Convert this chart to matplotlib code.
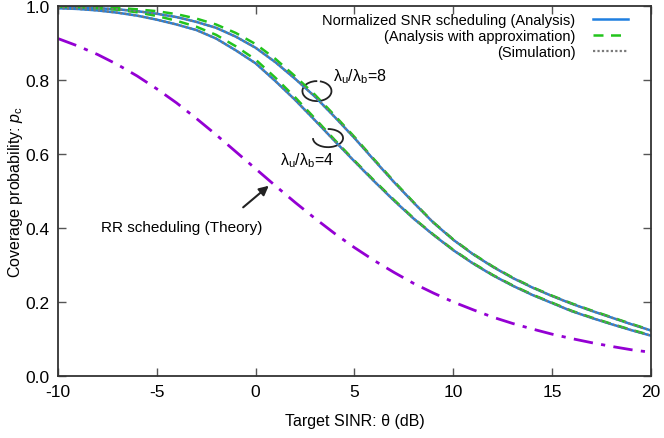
import matplotlib
matplotlib.use("Agg")
import matplotlib.pyplot as plt
from matplotlib.patches import Arc

plt.rcParams['font.family'] = ['Liberation Sans', 'DejaVu Sans']
plt.rcParams['mathtext.fontset'] = 'custom'
plt.rcParams['mathtext.rm'] = 'Liberation Sans'
plt.rcParams['mathtext.it'] = 'Liberation Sans:italic'

# Target SINR (dB)
theta_db = list(range(-10, 21))

# Normalized SNR scheduling (Analysis), lambda_u/lambda_b = 8
ana_8 = [0.997, 0.996, 0.994, 0.991, 0.986, 0.979, 0.970, 0.957, 0.941, 0.917,
         0.887, 0.848, 0.803, 0.755, 0.700, 0.643, 0.583, 0.524, 0.468, 0.414,
         0.368, 0.329, 0.295, 0.265, 0.239, 0.216, 0.195, 0.176, 0.158, 0.140, 0.123]
# lambda_u/lambda_b = 4
ana_4 = [0.994, 0.992, 0.988, 0.982, 0.974, 0.963, 0.950, 0.935, 0.912, 0.880,
         0.845, 0.797, 0.746, 0.691, 0.635, 0.580, 0.526, 0.474, 0.425, 0.381,
         0.340, 0.304, 0.272, 0.244, 0.219, 0.197, 0.175, 0.157, 0.140, 0.124, 0.109]

# Analysis with approximation
approx_8 = [0.999, 0.998, 0.997, 0.995, 0.991, 0.986, 0.978, 0.966, 0.950, 0.927,
            0.897, 0.857, 0.810, 0.760, 0.704, 0.646, 0.585, 0.526, 0.469, 0.415,
            0.369, 0.330, 0.296, 0.266, 0.240, 0.217, 0.196, 0.177, 0.159, 0.141, 0.124]
approx_4 = [0.998, 0.997, 0.994, 0.990, 0.983, 0.973, 0.960, 0.944, 0.922, 0.891,
            0.855, 0.806, 0.753, 0.696, 0.638, 0.582, 0.528, 0.476, 0.426, 0.382,
            0.341, 0.305, 0.273, 0.245, 0.220, 0.198, 0.176, 0.158, 0.141, 0.125, 0.110]

# Simulation
sim_8 = [0.997, 0.996, 0.994, 0.991, 0.986, 0.979, 0.970, 0.957, 0.941, 0.917,
         0.887, 0.848, 0.803, 0.755, 0.700, 0.643, 0.583, 0.524, 0.468, 0.414,
         0.368, 0.329, 0.295, 0.265, 0.239, 0.216, 0.195, 0.176, 0.158, 0.140, 0.123]
sim_4 = [0.994, 0.992, 0.988, 0.982, 0.974, 0.963, 0.950, 0.935, 0.912, 0.880,
         0.845, 0.797, 0.746, 0.691, 0.635, 0.580, 0.526, 0.474, 0.425, 0.381,
         0.340, 0.304, 0.272, 0.244, 0.219, 0.197, 0.175, 0.157, 0.140, 0.124, 0.109]

# RR scheduling (Theory)
rr = [0.912, 0.892, 0.869, 0.842, 0.811, 0.776, 0.738, 0.696, 0.652, 0.606,
      0.560, 0.514, 0.469, 0.426, 0.385, 0.347, 0.312, 0.280, 0.250, 0.224,
      0.200, 0.179, 0.159, 0.142, 0.127, 0.113, 0.101, 0.090, 0.080, 0.071, 0.064]

x_ticks = [-10, -5, 0, 5, 10, 15, 20]
y_ticks = [0.0, 0.2, 0.4, 0.6, 0.8, 1.0]

c_blue = '#1f7fe0'
c_green = '#22c41c'
c_gray = '#7a7a7a'
c_purple = '#9400d3'

fig = plt.figure(figsize=(6.64, 4.39), dpi=100)
ax = fig.add_axes([58/664, 1-377/439, (651-58)/664, (377-7)/439])

ax.plot(theta_db, rr, color=c_purple, lw=2.0, dashes=(7, 3, 1.5, 3))

l1, = ax.plot(theta_db, ana_8, color=c_blue, lw=1.8)
ax.plot(theta_db, ana_4, color=c_blue, lw=1.8)
l2, = ax.plot(theta_db, approx_8, color=c_green, lw=1.8, dashes=(4, 3))
ax.plot(theta_db, approx_4, color=c_green, lw=1.8, dashes=(4, 3))
l3, = ax.plot(theta_db, sim_8, color=c_gray, lw=1.6, dashes=(1, 1))
ax.plot(theta_db, sim_4, color=c_gray, lw=1.6, dashes=(1, 1))

ax.set_xlim(-10, 20)
ax.set_ylim(0, 1)
ax.set_xticks(x_ticks)
ax.set_xticklabels([str(t) for t in x_ticks])
ax.set_yticks(y_ticks)
ax.set_yticklabels(['%.1f' % t for t in y_ticks])
ax.tick_params(direction='in', length=6, width=1, color='#555555', top=True, right=True,
               labelsize=12.5, pad=6)
for s in ax.spines.values():
    s.set_linewidth(1.3)
    s.set_color('#333333')

ax.set_xlabel('Target SINR: θ (dB)', fontsize=11.5, labelpad=10)
ax.set_ylabel('Coverage probability: $p_{\\rm c}$', fontsize=11.5, labelpad=0)

leg = ax.legend([l1, l2, l3],
                ['Normalized SNR scheduling (Analysis)', '(Analysis with approximation)', '(Simulation)'],
                loc='upper right', bbox_to_anchor=((628-58)/593, (377-14)/370),
                frameon=False, markerfirst=False, fontsize=10.5, borderpad=0, borderaxespad=0,
                handlelength=2.4, handletextpad=1.2, labelspacing=0.15)

ax.text(3.91, 0.813, 'λ$_{\\rm u}$/λ$_{\\rm b}$=8', fontsize=11.5, va='center', ha='left')
ax.text(1.23, 0.586, 'λ$_{\\rm u}$/λ$_{\\rm b}$=4', fontsize=11.5, va='center', ha='left')
ax.add_patch(Arc((3.10, 0.770), 1.47, 0.054, theta1=60, theta2=370, color='#222222', lw=1.3))
ax.add_patch(Arc((3.66, 0.643), 1.52, 0.049, theta1=-180, theta2=120, color='#222222', lw=1.3))

ax.text(-7.82, 0.403, 'RR scheduling (Theory)', fontsize=11, va='center', ha='left')
ax.annotate('', xy=(0.77, 0.519), xytext=(-0.74, 0.451),
            arrowprops=dict(arrowstyle='-|>', color='#222222', lw=1.5, mutation_scale=14))

fig.savefig('out.png', dpi=100)
